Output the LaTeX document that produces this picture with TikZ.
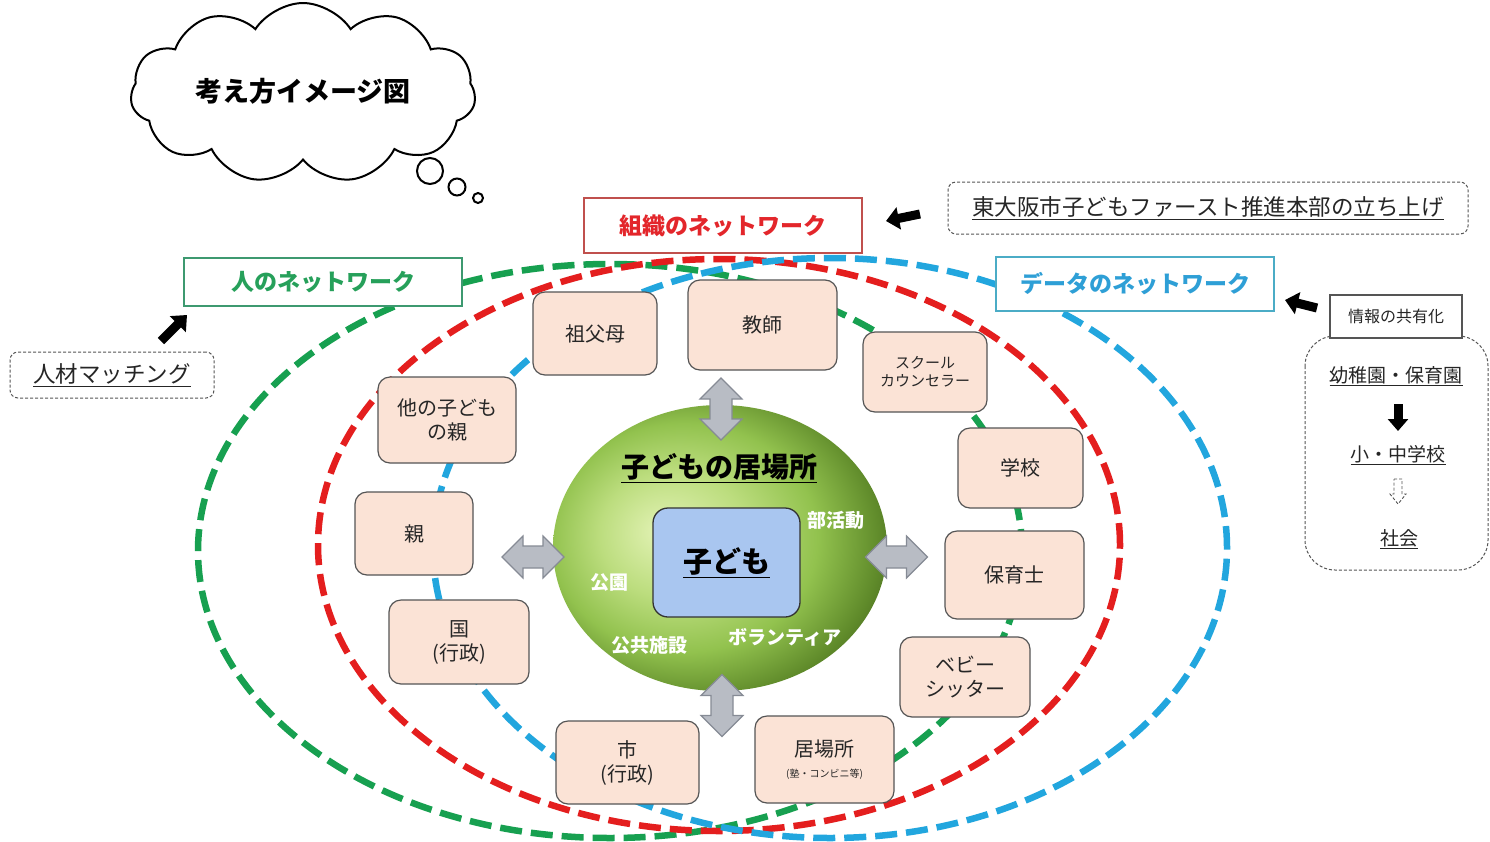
\documentclass[tikz,border=0pt]{standalone}
\usepackage{fontspec}
\setmainfont{Noto Sans CJK JP}
\usetikzlibrary{shapes.symbols,shapes.geometric,arrows.meta}
\definecolor{netgreen}{HTML}{17A050}
\definecolor{netred}{HTML}{E41E1E}
\definecolor{netblue}{HTML}{22A6DE}
\definecolor{cardfill}{HTML}{FBE3D6}
\definecolor{cardborder}{HTML}{555555}
\definecolor{cardtext}{HTML}{262626}
\definecolor{kidfill}{HTML}{A9C6F0}
\definecolor{arrfill}{HTML}{B8BCC4}
\definecolor{arrdraw}{HTML}{868B95}
\definecolor{soshikiborder}{HTML}{C0504D}
\definecolor{soshikitext}{HTML}{E3262B}
\definecolor{hitoborder}{HTML}{3D9970}
\definecolor{hitotext}{HTML}{26A05A}
\definecolor{databorder}{HTML}{4BACC6}
\definecolor{datatext}{HTML}{2E9FD6}
\definecolor{dgray}{HTML}{555555}
\definecolor{sphA}{HTML}{E2F2B4}
\definecolor{sphB}{HTML}{BCDD7E}
\definecolor{sphC}{HTML}{92C24E}
\definecolor{sphD}{HTML}{5F8A2A}
\definecolor{sphE}{HTML}{3A5518}
\pgfdeclareradialshading{greensphere}{\pgfpoint{-9bp}{3bp}}{color(0bp)=(sphA); color(11bp)=(sphB); color(20bp)=(sphC); color(28bp)=(sphD); color(34bp)=(sphE); color(50bp)=(sphE)}
\begin{document}
\begin{tikzpicture}[x=1pt,y=-1pt,
  card/.style={draw=cardborder, fill=cardfill, line width=1.2pt, rounded corners=12pt, align=center, text=cardtext, inner sep=0pt, font=\fontsize{20}{24}\selectfont},
  netline/.style={line width=6.5pt, dash pattern=on 22pt off 9pt},
  blk/.style={line width=9pt, -{Triangle[length=13pt,width=22pt]}, black},
  dbox/.style={draw=dgray, densely dashed, rounded corners=8pt, line width=1pt, fill=white, text=cardtext, inner sep=0pt},
  netbox/.style={line width=1.3pt, fill=white, inner sep=0pt, font=\bfseries\fontsize{23}{23}\selectfont},
  spherelabel/.style={text=white, font=\bfseries\fontsize{19}{19}\selectfont},
  garrow/.pic={\path[draw=arrdraw, fill=arrfill, line width=1.2pt] (-31,0) -- (-10,21) -- (-10,11) -- (10,11) -- (10,21) -- (31,0) -- (10,-21) -- (10,-11) -- (-10,-11) -- (-10,-21) -- cycle;},
  hollowarrow/.pic={\path[draw=dgray, densely dashed, line width=0.9pt, fill=white] (-4,-12) -- (4,-12) -- (4,3) -- (8,3) -- (0,13) -- (-8,3) -- (-4,3) -- cycle;}
]
\useasboundingbox (0,0) rectangle (1490,841);
\fill[white] (0,0) rectangle (1490,841);

% thought cloud
\node[cloud, draw, line width=2pt, cloud puffs=11, cloud puff arc=115, aspect=2.2, minimum width=345pt, minimum height=158pt, inner sep=0pt, font=\bfseries\fontsize{27}{27}\selectfont] (cloud) at (303,93) {\raisebox{6pt}{考え方イメージ図}};
\node[circle, draw, line width=2pt, minimum size=26pt, inner sep=0pt] (bub1) at (430,171) {};
\node[circle, draw, line width=2pt, minimum size=17pt, inner sep=0pt] (bub2) at (457,187) {};
\node[circle, draw, line width=2pt, minimum size=10pt, inner sep=0pt] (bub3) at (478,198) {};

% network ellipses
\draw[netline, netgreen] (610,551) ellipse [x radius=412pt, y radius=287pt];
\draw[netline, netred] (719,545) ellipse [x radius=401pt, y radius=286pt];
\draw[netline, netblue] (830,548) ellipse [x radius=397pt, y radius=290pt];

% cards
\node[card, minimum width=124pt, minimum height=83pt] (sofubo) at (595,333.5) {祖父母};
\node[card, minimum width=149pt, minimum height=90pt] (kyoshi) at (762.5,325) {教師};
\node[card, minimum width=124pt, minimum height=80pt, font=\fontsize{15}{18}\selectfont] (counselor) at (925,372) {スクール\\カウンセラー};
\node[card, minimum width=138pt, minimum height=86pt] (tanooya) at (447,420) {他の子ども\\の親};
\node[card, minimum width=125pt, minimum height=80pt] (gakko) at (1020.5,468) {学校};
\node[card, minimum width=118pt, minimum height=83pt] (oya) at (414,533.5) {親};
\node[card, minimum width=139pt, minimum height=88pt] (hoikushi) at (1014.5,575) {保育士};
\node[card, minimum width=140pt, minimum height=84pt] (kuni) at (459,642) {国\\(行政)};
\node[card, minimum width=130pt, minimum height=80pt] (sitter) at (965,677) {ベビー\\シッター};
\node[card, minimum width=143pt, minimum height=83pt] (shi) at (627.5,762.5) {市\\(行政)};
\node[card, minimum width=139pt, minimum height=87pt] (ibasho) at (824.5,759.5) {居場所\\[-3pt]{\fontsize{10}{12}\selectfont (塾・コンビニ等)}};

% sphere
\node[ellipse, shade, shading=greensphere, minimum width=334pt, minimum height=286pt, inner sep=0pt] (sphere) at (720,548) {};
\node[font=\bfseries\fontsize{28}{28}\selectfont, text=black] (ibashotitle) at (719,468) {\underline{子どもの居場所}};
\node[draw=black!80, line width=1.3pt, fill=kidfill, rounded corners=15pt, minimum width=147pt, minimum height=109pt, inner sep=0pt, font=\bfseries\fontsize{29}{29}\selectfont] (kodomo) at (726.5,562.5) {\underline{子ども}};
\node[spherelabel] (bukatsu) at (836,520) {部活動};
\node[spherelabel] (koen) at (609,582) {公園};
\node[spherelabel] (kokyo) at (649,645) {公共施設};
\node[spherelabel] (volunteer) at (785,637) {ボランティア};

% gray double arrows
\pic[rotate=90] (gtop) at (721,409) {garrow};
\pic (gleft) at (533,557) {garrow};
\pic (gright) at (896.5,557) {garrow};
\pic[rotate=90] (gbottom) at (722,705.5) {garrow};

% network labels
\node[netbox, draw=soshikiborder, text=soshikitext, minimum width=278pt, minimum height=55pt] (soshiki) at (723,225.5) {組織のネットワーク};
\node[netbox, draw=hitoborder, text=hitotext, minimum width=278pt, minimum height=48pt] (hito) at (323,282) {人のネットワーク};
\node[netbox, draw=databorder, text=datatext, minimum width=278pt, minimum height=54pt] (data) at (1135,284) {データのネットワーク};

% side boxes
\node[dbox, minimum width=520pt, minimum height=52pt, font=\fontsize{22.5}{22.5}\selectfont] (honbu) at (1208,208) {\underline{東大阪市子どもファースト推進本部の立ち上げ}};
\node[dbox, minimum width=204pt, minimum height=46pt, font=\fontsize{22.5}{22.5}\selectfont] (jinzai) at (112,375) {\underline{人材マッチング}};

\draw[dgray, densely dashed, line width=1pt, rounded corners=30pt] (1305,336) rectangle (1488,570);
\node[draw=dgray, line width=1.2pt, fill=white, minimum width=132pt, minimum height=43pt, inner sep=0pt, text=cardtext, font=\fontsize{16}{16}\selectfont] (joho) at (1396,316.5) {情報の共有化};
\node[text=cardtext, font=\fontsize{19}{19}\selectfont] (yochien) at (1396,376) {\underline{幼稚園・保育園}};
\node[text=cardtext, font=\fontsize{19}{19}\selectfont] (shochu) at (1398,455) {\underline{小・中学校}};
\node[text=cardtext, font=\fontsize{19}{19}\selectfont] (shakai) at (1399,539) {\underline{社会}};
\coordinate (d1s) at (1398,404);
\coordinate (d1e) at (1398,431);
\draw[line width=9pt, -{Triangle[length=12pt,width=20pt]}, black] (d1s) -- (d1e);
\pic (hollow) at (1398,491) {hollowarrow};

% black pointer arrows
\coordinate (a1s) at (920,214);
\coordinate (a1e) at (886,221);
\draw[blk] (a1s) -- (a1e);
\coordinate (a2s) at (1317,308);
\coordinate (a2e) at (1285,300);
\draw[blk] (a2s) -- (a2e);
\coordinate (a3s) at (161,341);
\coordinate (a3e) at (187,315);
\draw[blk] (a3s) -- (a3e);
\end{tikzpicture}
\end{document}
